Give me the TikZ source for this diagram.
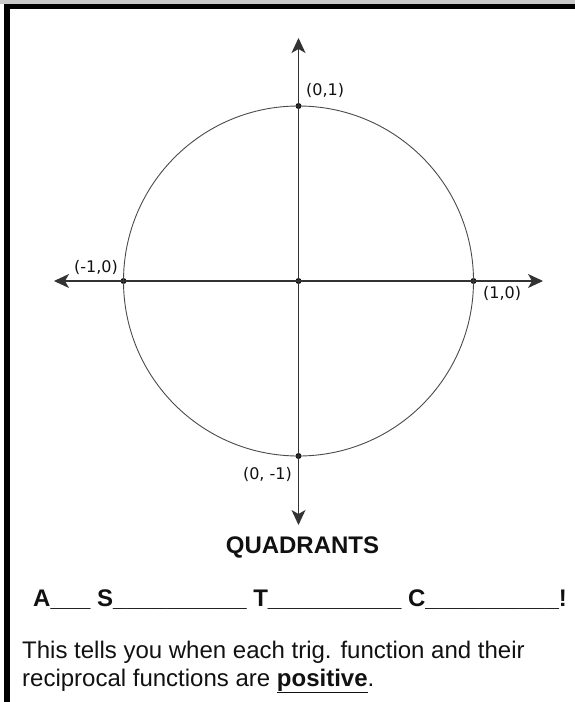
\documentclass[tikz,border=0pt]{standalone}
\usepackage{fontspec}
\setmainfont{Liberation Sans}
\newfontfamily\lblfont{DejaVu Sans}
\usetikzlibrary{arrows.meta,positioning}
\def\wLight{0.9pt}
\def\wRegular{1.1pt}
\definecolor{cInk}{HTML}{111111}
\definecolor{cLine}{HTML}{333333}
\definecolor{cRing}{HTML}{4A4A4A}
\definecolor{cFrame}{HTML}{C8C8C8}
\tikzset{
  unit/.style={x=1pt, y=-1pt},
  axis/.style={draw=cLine, line width=\wRegular, {Stealth[length=15pt, width=14pt, inset=4pt]}-{Stealth[length=15pt, width=14pt, inset=4pt]}},
  ring/.style={draw=cRing, line width=\wLight},
  pt/.style={circle, fill=cInk, inner sep=0pt, minimum size=6pt},
  lbl/.style={font=\lblfont\fontsize{16}{19}\selectfont, text=cInk, inner sep=0pt},
  head/.style={font=\bfseries\fontsize{24}{28}\selectfont, text=cInk, inner sep=0pt},
  body/.style={font=\fontsize{24}{28}\selectfont, text=cInk, inner sep=0pt, anchor=base west},
}

\begin{document}
\begin{tikzpicture}[unit]
\useasboundingbox (0,0) rectangle (575,702);
% frame: grey strip and black cell border on the top and left
\fill[cFrame] (0,0) rectangle (575,3.5);
\fill[black] (4,3.5) rectangle (575,8.5);
\fill[black] (4,3.5) rectangle (10,702);

% unit circle, centre (298.5,281), radius 175
\node[pt] (o)   at (298.5,281) {};
\node[pt] (top) at (298.5,106) {};
\node[pt] (bot) at (298.5,456) {};
\node[pt] (lft) at (123.5,281) {};
\node[pt] (rgt) at (473.5,281) {};
\draw[ring] (o.center) circle[radius=175];

% axis ends
\coordinate (xl) at (54,281);
\coordinate (xr) at (543,281);
\coordinate (yt) at (298.5,38);
\coordinate (yb) at (298.5,525);
\draw[axis] (xl) -- (xr);
\draw[axis] (yt) -- (yb);

% point labels
\node[lbl, anchor=base west] (l-top) at (306,95)  {(0,1)};
\node[lbl, anchor=base east] (l-lft) at (118,272) {(-1,0)};
\node[lbl, anchor=base west] (l-rgt) at (483,298) {(1,0)};
\node[lbl, anchor=base east] (l-bot) at (292,479) {(0, -1)};

% text below
\node[head, anchor=base] (quad) at (302.5,553) {QUADRANTS};
\node[head, anchor=base west] (astc) at (33,606) {A\_\_\_ S\_\_\_\_\_\_\_\_\_\_ T\_\_\_\_\_\_\_\_\_\_ C\_\_\_\_\_\_\_\_\_\_!};
\node[body] (note1) at (22,658) {This tells you when each trig. function and their};
\node[body] (note2) at (22,686) {reciprocal functions are \underline{\textbf{positive}}.};
\end{tikzpicture}
\end{document}
